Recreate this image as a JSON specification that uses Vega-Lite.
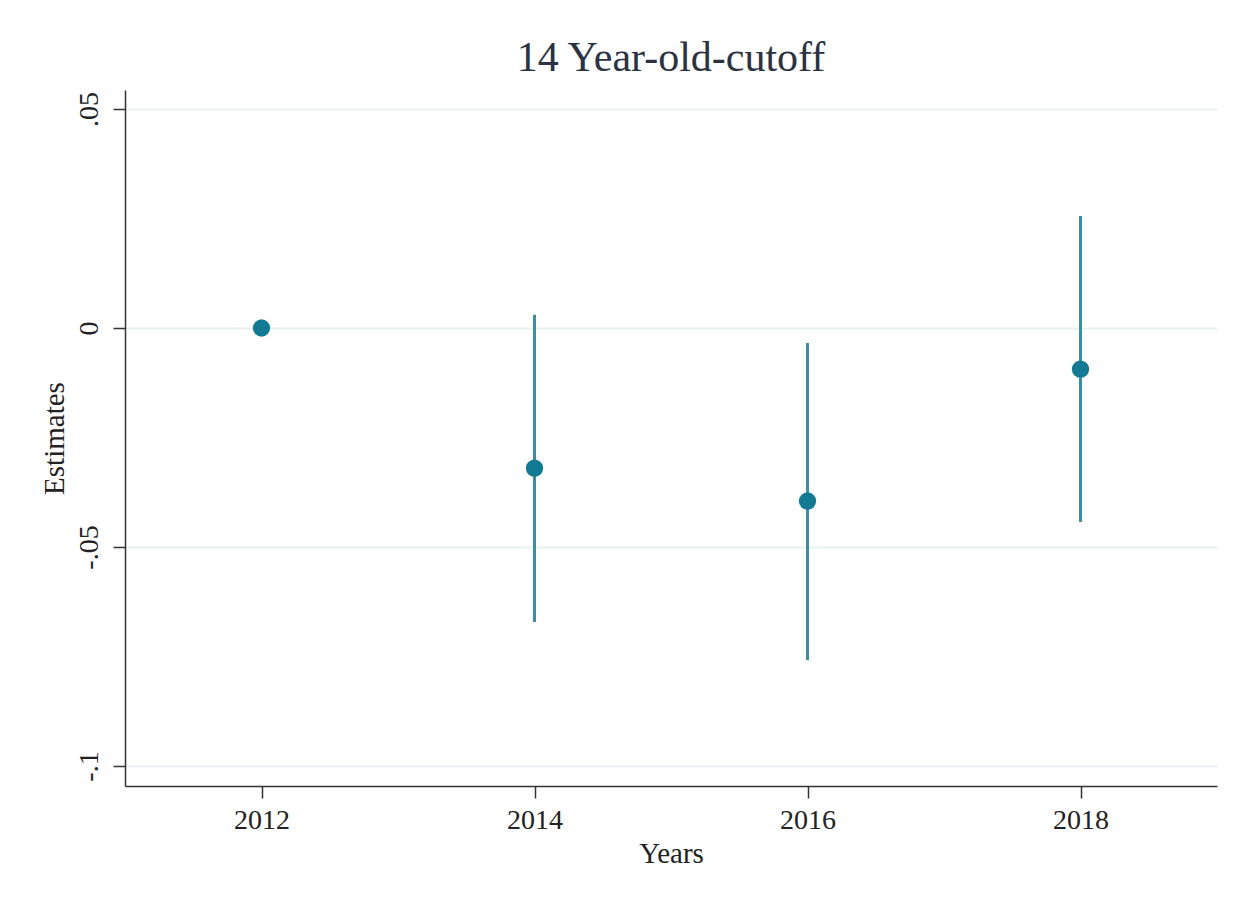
{
  "$schema": "https://vega.github.io/schema/vega-lite/v6.json",
  "autosize": "none",
  "width": 1092,
  "height": 696,
  "padding": {"left": 125, "top": 90, "right": 33, "bottom": 121},
  "background": "white",
  "title": {
    "text": "14 Year-old-cutoff",
    "font": "Liberation Serif",
    "fontSize": 42,
    "fontWeight": "normal",
    "color": "#2b3342",
    "anchor": "middle",
    "offset": 10
  },
  "data": {
    "values": [
      {"year": 2012, "est": 0.0, "lo": null, "hi": null},
      {"year": 2014, "est": -0.032, "lo": -0.0671, "hi": 0.003},
      {"year": 2016, "est": -0.0395, "lo": -0.0758, "hi": -0.0034},
      {"year": 2018, "est": -0.0094, "lo": -0.0443, "hi": 0.0256}
    ]
  },
  "config": {
    "view": {"stroke": null},
    "axis": {
      "labelFont": "Liberation Serif",
      "titleFont": "Liberation Serif",
      "labelFontSize": 28,
      "titleFontSize": 29,
      "titleFontWeight": "normal",
      "labelColor": "#222222",
      "titleColor": "#222222",
      "domainColor": "#333333",
      "domainWidth": 1.5,
      "tickColor": "#333333",
      "tickWidth": 1.5,
      "gridColor": "#e8f1f2",
      "gridWidth": 2
    }
  },
  "layer": [
    {
      "transform": [{"filter": "datum.lo != null"}],
      "mark": {"type": "rule", "color": "#3a8fa8", "strokeWidth": 3},
      "encoding": {
        "x": {"field": "year", "type": "quantitative"},
        "y": {"field": "lo", "type": "quantitative"},
        "y2": {"field": "hi"}
      }
    },
    {
      "mark": {"type": "point", "filled": true, "opacity": 1, "color": "#137a93", "size": 300},
      "encoding": {
        "x": {
          "field": "year",
          "type": "quantitative",
          "scale": {"domain": [2011, 2019], "nice": false, "zero": false},
          "axis": {
            "values": [2012, 2014, 2016, 2018],
            "format": "d",
            "grid": false,
            "tickSize": 12,
            "labelPadding": 8,
            "title": "Years",
            "titlePadding": 5
          }
        },
        "y": {
          "field": "est",
          "type": "quantitative",
          "scale": {"domain": [-0.10457, 0.05434], "nice": false, "zero": false},
          "axis": {
            "values": [-0.1, -0.05, 0, 0.05],
            "labelExpr": "datum.value == 0 ? '0' : replace(replace(format(datum.value, '.2~f'), '0.', '.'), '\u2212', '-')",
            "labelAngle": -90,
            "labelAlign": "center",
            "labelBaseline": "bottom",
            "tickSize": 12,
            "labelPadding": 10,
            "title": "Estimates",
            "titlePadding": 6
          }
        }
      }
    }
  ]
}
